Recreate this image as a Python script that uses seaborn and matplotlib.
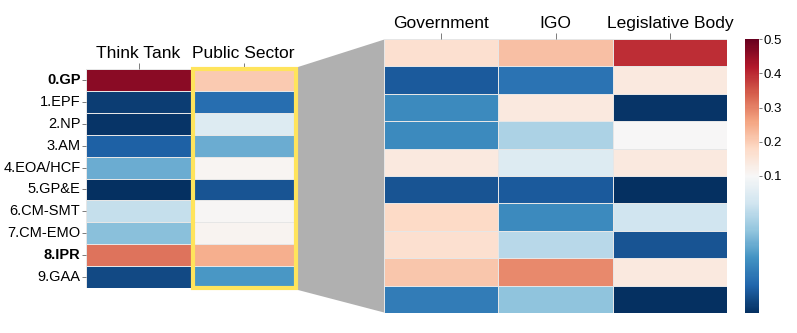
import matplotlib
matplotlib.use("Agg")
import matplotlib.pyplot as plt
from matplotlib.colors import TwoSlopeNorm
from matplotlib.patches import Polygon, Rectangle
import pandas as pd
import seaborn as sns

# 行标签（主题）
topics = ["0.GP", "1.EPF", "2.NP", "3.AM", "4.EOA/HCF", "5.GP&E",
          "6.CM-SMT", "7.CM-EMO", "8.IPR", "9.GAA"]
bold_topics = ["0.GP", "8.IPR"]

# 左侧：机构类型
think_tank = [0.46, 0.005, 0.002, 0.018, 0.05, 0.0, 0.076, 0.058, 0.316, 0.01]
public_sector = [0.204, 0.024, 0.086, 0.05, 0.108, 0.014, 0.104, 0.11, 0.244, 0.042]

# 右侧：公共部门细分
government = [0.164, 0.016, 0.036, 0.036, 0.14, 0.014, 0.18, 0.164, 0.212, 0.03]
igo = [0.22, 0.026, 0.14, 0.068, 0.086, 0.016, 0.036, 0.072, 0.292, 0.06]
legislative = [0.396, 0.14, 0.002, 0.1, 0.14, 0.0, 0.08, 0.014, 0.14, 0.0]

cbar_ticks = [0.1, 0.2, 0.3, 0.4, 0.5]

left_df = pd.DataFrame({"Think Tank": think_tank, "Public Sector": public_sector},
                       index=topics)
right_df = pd.DataFrame({"Government": government, "IGO": igo,
                         "Legislative Body": legislative}, index=topics)

plt.rcParams["font.family"] = ["Liberation Sans", "DejaVu Sans"]

W, H = 797, 333
fig = plt.figure(figsize=(W / 100, H / 100), dpi=100)


def px_axes(x0, y0, x1, y1):
    # 像素坐标（左上原点）转为 figure 坐标
    return fig.add_axes([x0 / W, 1 - y1 / H, (x1 - x0) / W, (y1 - y0) / H])


ax1 = px_axes(86, 69, 296, 288)
ax2 = px_axes(384, 39, 727, 313)
cax = px_axes(745, 39, 759, 313)

norm = TwoSlopeNorm(vmin=0, vcenter=0.1, vmax=0.5)

sns.heatmap(left_df, ax=ax1, cmap="RdBu_r", norm=norm, cbar=False,
            linewidths=0.6, linecolor="#e6e6e6")
sns.heatmap(right_df, ax=ax2, cmap="RdBu_r", norm=norm, cbar=True, cbar_ax=cax,
            linewidths=0.6, linecolor="#e6e6e6")

for ax in (ax1, ax2):
    ax.xaxis.tick_top()
    ax.tick_params(axis="x", length=4, width=0.6, color="#666666", pad=1.5,
                   labelsize=12.5, rotation=0)
    ax.tick_params(axis="y", length=3, width=0.6, color="#666666", pad=1,
                   labelsize=10.5, rotation=0)
    ax.set_xlabel("")
    ax.set_ylabel("")

ax2.set_yticks([])

for lab in ax1.get_yticklabels():
    if lab.get_text() in bold_topics:
        lab.set_fontweight("bold")

# 黄色框：Public Sector 列
col = list(left_df.columns).index("Public Sector")
ax1.add_patch(Rectangle((col + 0.02, 0), 0.98, len(topics), fill=False,
                        edgecolor="#ffe45c", linewidth=3, clip_on=False, zorder=5))

# 灰色连接区域
b1 = ax1.get_position()
b2 = ax2.get_position()
dx = 2 / W
dy = 2 / H
poly = Polygon([(b1.x1 + dx, b1.y1 + dy), (b2.x0 + dx, b2.y1),
                (b2.x0 + dx, b2.y0), (b1.x1 + dx, b1.y0 - dy)],
               closed=True, transform=fig.transFigure, facecolor="#b0b0b0",
               edgecolor="none", zorder=-1)
fig.patches.append(poly)

cbar = ax2.collections[0].colorbar
cbar.set_ticks(cbar_ticks)
cbar.set_ticklabels([f"{t:.1f}" for t in cbar_ticks])
cbar.ax.tick_params(length=2, width=0.6, color="#666666", pad=1, labelsize=9.5)
cbar.outline.set_linewidth(0)

fig.savefig("out.png", dpi=100)
